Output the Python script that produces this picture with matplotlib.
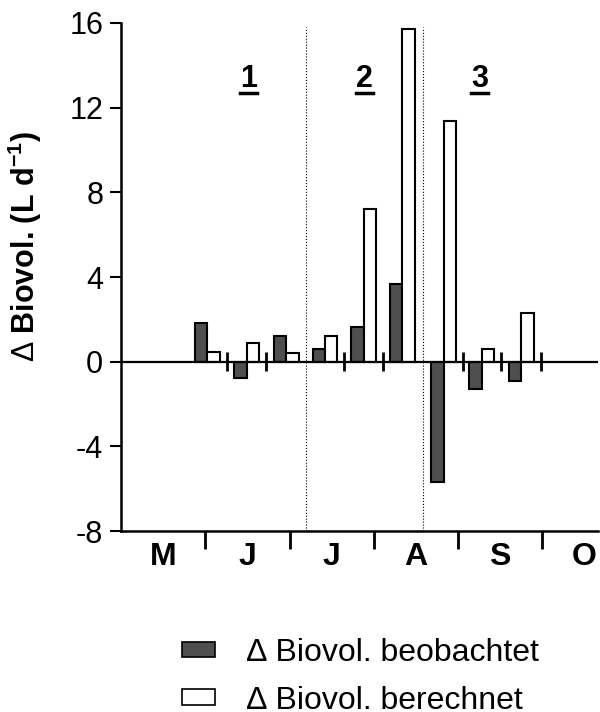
import matplotlib
matplotlib.use("Agg")
import matplotlib.pyplot as plt
import numpy as np
from matplotlib.patches import Patch
from matplotlib.lines import Line2D

plt.rcParams['font.family'] = ['Liberation Sans', 'DejaVu Sans']
plt.rcParams['mathtext.fontset'] = 'custom'
plt.rcParams['mathtext.rm'] = 'Liberation Sans'
plt.rcParams['mathtext.bf'] = 'Liberation Sans:bold'
plt.rcParams['mathtext.default'] = 'bf'

# Probenahmezeitpunkte (Monate ab 1. Mai)
zeit = [1.02, 1.49, 1.96, 2.42, 2.88, 3.34, 3.83, 4.28, 4.75]
beobachtet = [1.82, -0.78, 1.22, 0.61, 1.62, 3.68, -5.69, -1.27, -0.91]
berechnet = [0.47, 0.86, 0.39, 1.22, 7.2, 15.7, 11.35, 0.61, 2.30]
monate = ['M', 'J', 'J', 'A', 'S', 'O']
phasen = ['1', '2', '3']
phasen_x = [1.51, 2.89, 4.26]
grenzen_idx = [2, 5]   # Phasengrenze nach diesem Index

fig = plt.figure(figsize=(6, 7.12), dpi=100)
ax = fig.add_axes([0.202, 0.2542, 0.795, 0.7135])

breite = 0.148
zeit = np.array(zeit)
ax.bar(zeit - breite / 2, beobachtet, breite, color='#4f4f4f', edgecolor='black', linewidth=1.5, zorder=3)
ax.bar(zeit + breite / 2, berechnet, breite, color='white', edgecolor='black', linewidth=1.5, zorder=3)

ax.axhline(0, color='black', linewidth=1.6, zorder=4)

# Trennstriche zwischen den Probenahmen
mitten = (zeit[:-1] + zeit[1:]) / 2
mitten = np.append(mitten, zeit[-1] + (zeit[-1] - zeit[-2]) / 2)
for i, m in enumerate(mitten):
    if i in grenzen_idx:
        ax.vlines(m, -8, 15.8, colors='black', linestyles=':', linewidth=0.8, zorder=2)
    else:
        ax.vlines(m, -0.45, 0.45, colors='black', linewidth=2, zorder=5)

phasen_txt = []
for p, x in zip(phasen, phasen_x):
    phasen_txt.append(ax.text(x, 13.35, p, ha='center', va='center', fontsize=22, fontweight='bold'))

ax.set_ylim(-8, 16)
ax.set_xlim(0, 5.665)
ax.set_yticks([-8, -4, 0, 4, 8, 12, 16])
ax.set_yticklabels(['-8', '-4', '0', '4', '8', '12', '16'])
ax.set_xticks([1, 2, 3, 4, 5])
ax.set_xticklabels([])
ax.set_xticks(np.arange(len(monate)) + 0.5, minor=True)
ax.set_xticklabels(monate, minor=True, fontweight='bold', fontsize=23)
ax.tick_params(axis='x', which='minor', length=0, pad=8)
ax.tick_params(axis='x', which='major', length=13, width=2)
ax.tick_params(axis='y', length=8, width=1.5, labelsize=22, pad=5)

for s in ['top', 'right']:
    ax.spines[s].set_visible(False)
ax.spines['left'].set_linewidth(1.8)
ax.spines['bottom'].set_linewidth(1.8)

ax.set_ylabel(r'$\mathrm{\Delta}$ Biovol. (L d$^{-1}$)', fontsize=22, fontweight='bold')
ax.yaxis.set_label_coords(-0.162, 0.561)

handles = [Patch(facecolor='#4f4f4f', edgecolor='black', linewidth=1.2),
           Patch(facecolor='white', edgecolor='black', linewidth=1.2)]
fig.legend(handles, ['\u2206 Biovol. beobachtet', '\u2206 Biovol. berechnet'],
           loc='upper left', bbox_to_anchor=(0.303, 0.104), frameon=False,
           fontsize=23, handlelength=1.04, handleheight=0.36, handletextpad=1.0,
           labelspacing=0.55, borderpad=0, borderaxespad=0)

# Unterstreichung der Phasennummern
fig.canvas.draw()
r = fig.canvas.get_renderer()
for t in phasen_txt:
    bb = t.get_window_extent(r)
    y = bb.y0 + 1
    fig.add_artist(Line2D([bb.x0, bb.x1], [y, y], transform=None, color='black', linewidth=2.5))

fig.savefig('out.png', dpi=100)
